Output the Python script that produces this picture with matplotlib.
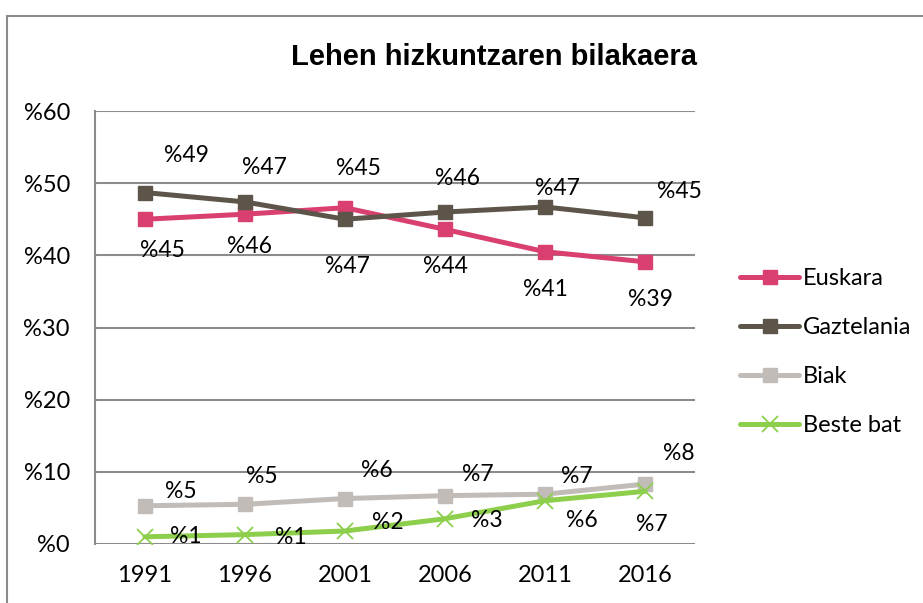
import matplotlib.pyplot as plt
from matplotlib.patches import Rectangle

years = ["1991", "1996", "2001", "2006", "2011", "2016"]
euskara = [45.0, 45.7, 46.6, 43.6, 40.5, 39.1]
gaztelania = [48.7, 47.4, 45.0, 46.0, 46.7, 45.2]
biak = [5.3, 5.5, 6.3, 6.7, 6.9, 8.3]
beste = [1.0, 1.3, 1.8, 3.5, 6.0, 7.3]

eusk_lbl = ["%45", "%46", "%47", "%44", "%41", "%39"]
gazt_lbl = ["%49", "%47", "%45", "%46", "%47", "%45"]
biak_lbl = ["%5", "%5", "%6", "%7", "%7", "%8"]
beste_lbl = ["%1", "%1", "%2", "%3", "%6", "%7"]

# label offsets in pixels (dx, dy up)
eusk_off = [(17, -31), (5, -32), (2, -59), (0, -37), (0, -38), (5, -38)]
gazt_off = [(41, 37), (19, 34), (13, 51), (12, 34), (12, 18), (34, 26)]
biak_off = [(36, 14), (17, 28), (32, 28), (33, 21), (32, 18), (34, 31)]
beste_off = [(41, 0), (46, -3), (43, 9), (42, -2), (37, -20), (7, -33)]

font = ["Lato", "DejaVu Sans"]
plt.rcParams["font.family"] = font

fig = plt.figure(figsize=(9.23, 6.03), dpi=100)
fig.patches.append(Rectangle((7 / 923, -0.1), 1.2, (603 - 16) / 603 + 0.1,
                             transform=fig.transFigure, fill=False,
                             edgecolor="#8c8c8c", linewidth=1.5))

ax = fig.add_axes([95 / 923, 59 / 603, 600 / 923, 433 / 603])
x = list(range(len(years)))

series = [
    ("Euskara", euskara, eusk_lbl, eusk_off, "#d9406f", "s"),
    ("Gaztelania", gaztelania, gazt_lbl, gazt_off, "#5e554a", "s"),
    ("Biak", biak, biak_lbl, biak_off, "#c2bcb8", "s"),
    ("Beste bat", beste, beste_lbl, beste_off, "#8dcf4c", "x"),
]

for name, vals, lbls, offs, col, mk in series:
    if mk == "x":
        ax.plot(x, vals, color=col, linewidth=3.6, marker="x", markersize=12,
                markeredgewidth=1.3, label=name, solid_capstyle="round")
    else:
        ax.plot(x, vals, color=col, linewidth=3.6, marker="s", markersize=9.5,
                label=name, solid_capstyle="round")
    for xi, v, t, (dx, dy) in zip(x, vals, lbls, offs):
        ax.annotate(t, (xi, v), xytext=(dx, dy), textcoords="offset pixels",
                    ha="center", va="center", fontsize=16.5, color="black")

ax.set_xlim(-0.5, 5.5)
ax.set_ylim(0, 60)
ax.set_yticks(range(0, 61, 10))
ax.set_yticklabels(["%" + str(v) for v in range(0, 61, 10)])
ax.set_xticks(x)
ax.set_xticklabels(years)
ax.tick_params(axis="y", length=0, pad=18, labelsize=17)
ax.tick_params(axis="x", length=0, pad=15, labelsize=17)
ax.grid(axis="y", color="#8c8c8c", linewidth=1.5)
ax.set_axisbelow(True)
for s in ["top", "right", "bottom"]:
    ax.spines[s].set_visible(False)
ax.spines["left"].set_color("#8c8c8c")
ax.spines["left"].set_linewidth(1.5)

fig.legend(loc="upper left", bbox_to_anchor=(731 / 923, 1 - 259 / 603),
           frameon=False, fontsize=17, handlelength=2.5, handletextpad=0.15,
           labelspacing=1.18, borderaxespad=0)

fig.text(0.535, 0.905, "Lehen hizkuntzaren bilakaera", ha="center", va="center",
         fontsize=21, fontweight="bold",
         family=["Liberation Sans Narrow", "Liberation Sans", "DejaVu Sans"])

fig.savefig("out.png", dpi=100)
